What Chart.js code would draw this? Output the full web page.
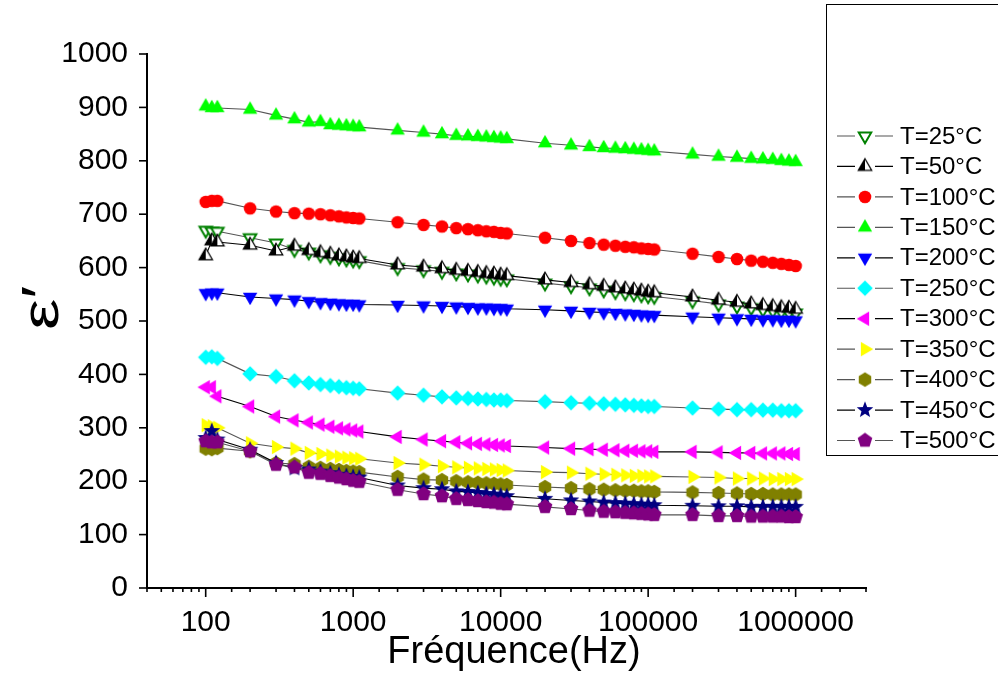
<!DOCTYPE html>
<html><head><meta charset="utf-8">
<script src="https://cdn.jsdelivr.net/npm/chart.js@4/dist/chart.umd.min.js"></script>
<style>html,body{margin:0;padding:0;background:#fff}canvas{display:block}</style>
</head><body>
<canvas id="c" width="998" height="674"></canvas>
<script>
// ---------- DATA ----------
const frequencies = [100,110,120,200,300,400,500,600,700,800,900,1000,1100,
  2000,3000,4000,5000,6000,7000,8000,9000,10000,11000,
  20000,30000,40000,50000,60000,70000,80000,90000,100000,110000,
  200000,300000,400000,500000,600000,700000,800000,900000,1000000];
const seriesLabels = ['T=25°C','T=50°C','T=100°C','T=150°C','T=200°C','T=250°C','T=300°C','T=350°C','T=400°C','T=450°C','T=500°C'];
const eps_T25  = [670,668,668,656,646,634,629,624,621,618,616,614,613, 600,596,593,590,588,586,584,582,580,579, 571,566,562,558,555,553,551,549,547,546, 538,532,528,525,522,520,518,516,515];
const eps_T50  = [622,650,648,642,631,640,632,628,625,622,620,618,617, 605,601,598,595,593,591,589,588,586,585, 577,572,568,565,562,560,558,556,554,553, 545,539,535,532,529,527,525,524,522];
const eps_T100 = [723,725,725,711,705,702,701,700,698,696,694,693,692, 685,680,677,674,672,670,668,667,665,664, 656,650,646,643,641,639,638,636,635,634, 626,620,616,613,611,609,607,605,603];
const eps_T150 = [902,899,899,896,885,878,872,873,867,866,865,864,863, 857,853,850,847,846,845,844,843,842,841, 833,829,826,824,823,822,821,820,819,818, 812,808,806,804,803,802,800,799,798];
const eps_T200 = [552,553,553,545,542,540,537,535,534,533,532,532,531, 530,529,528,527,526,525,525,524,524,523, 521,519,517,516,515,514,513,512,511,511, 508,506,505,504,503,503,502,502,501];
const eps_T250 = [432,433,430,401,396,388,384,381,379,377,375,374,373, 365,361,358,356,355,354,353,352,352,351, 349,347,346,345,344,343,342,341,340,340, 337,335,334,334,333,333,332,332,332];
const eps_T300 = [376,376,359,340,321,314,310,306,302,299,297,295,293, 283,278,275,273,271,270,269,268,267,266, 263,261,260,259,258,257,257,256,256,255, 255,254,253,253,252,252,252,251,251];
const eps_T350 = [305,303,300,271,264,261,253,251,248,246,244,243,242, 234,231,228,226,225,224,223,222,221,220, 217,216,214,213,212,211,210,210,209,209, 208,207,205,205,205,204,204,204,204];
const eps_T400 = [261,260,262,256,234,232,227,225,223,221,219,218,217, 208,203,202,200,198,197,196,195,194,193, 189,187,185,184,183,182,182,181,181,180, 179,178,177,176,176,175,175,175,175];
const eps_T450 = [281,294,278,259,234,224,222,218,215,212,210,208,207, 192,187,185,181,180,178,176,175,173,172, 167,164,162,160,159,158,157,156,156,155, 154,153,153,152,152,152,152,152,152];
const eps_T500 = [275,273,273,256,231,226,216,214,210,207,204,201,199, 184,176,172,167,165,163,161,160,158,157, 152,148,145,143,142,141,140,139,138,137, 137,135,135,134,134,134,134,133,133];
const xTickLabels = [100,1000,10000,100000,1000000];
const yTickLabels = [0,100,200,300,400,500,600,700,800,900,1000];
const xTitle = 'Fréquence(Hz)';
const yTitle = 'ε′';

// ---------- MARKERS ----------
function makeMarker(draw){
  const s=22, c=document.createElement('canvas'); c.width=s; c.height=s;
  const g=c.getContext('2d'); g.translate(s/2,s/2); draw(g); return c;
}
function polyPath(g,n,r,rot){
  g.beginPath();
  for(let i=0;i<n;i++){const a=rot+i*2*Math.PI/n; const x=Math.sin(a)*r, y=-Math.cos(a)*r; i?g.lineTo(x,y):g.moveTo(x,y);}
  g.closePath();
}
function filledPoly(n,r,rot,color){return makeMarker(g=>{polyPath(g,n,r,rot);g.fillStyle=color;g.fill();});}
const mk = {
  openDown: makeMarker(g=>{polyPath(g,3,7.2,Math.PI);g.fillStyle='#fff';g.fill();g.lineWidth=2;g.strokeStyle='#008000';g.stroke();}),
  halfUp: makeMarker(g=>{const r=7.8,h=r*Math.sqrt(3)/2;
    g.beginPath();g.moveTo(0,-r);g.lineTo(h,r/2);g.lineTo(-h,r/2);g.closePath();g.fillStyle='#fff';g.fill();
    g.beginPath();g.moveTo(0,-r);g.lineTo(0,r/2);g.lineTo(-h,r/2);g.closePath();g.fillStyle='#000';g.fill();
    g.beginPath();g.moveTo(0,-r);g.lineTo(h,r/2);g.lineTo(-h,r/2);g.closePath();g.lineWidth=1.2;g.strokeStyle='#000';g.stroke();}),
  circle: makeMarker(g=>{g.beginPath();g.arc(0,0,6.3,0,2*Math.PI);g.fillStyle='#ff0000';g.fill();}),
  up: filledPoly(3,8.3,0,'#00ff00'),
  down: filledPoly(3,8.3,Math.PI,'#0000ff'),
  diamond: filledPoly(4,7.8,0,'#00ffff'),
  left: filledPoly(3,8.3,-Math.PI/2,'#ff00ff'),
  right: filledPoly(3,8.3,Math.PI/2,'#ffff00'),
  hexagon: filledPoly(6,7.2,0,'#808000'),
  star: makeMarker(g=>{g.beginPath();for(let i=0;i<10;i++){const a=i*Math.PI/5;const r=i%2?3.7:8.7;const x=Math.sin(a)*r,y=-Math.cos(a)*r;i?g.lineTo(x,y):g.moveTo(x,y);}g.closePath();g.fillStyle='#000080';g.fill();}),
  pentagon: filledPoly(5,7.7,0,'#800080')
};

const seriesValues = [eps_T25,eps_T50,eps_T100,eps_T150,eps_T200,eps_T250,eps_T300,eps_T350,eps_T400,eps_T450,eps_T500];
const seriesMarkers = [mk.openDown,mk.halfUp,mk.circle,mk.up,mk.down,mk.diamond,mk.left,mk.right,mk.hexagon,mk.star,mk.pentagon];
const seriesLineColors = ['#555','#000','#555','#555','#000','#555','#000','#555','#555','#000','#555'];

const datasets = seriesValues.map((vals,i)=>({
  label: seriesLabels[i],
  data: frequencies.map((f,j)=>({x:f,y:vals[j]})),
  borderColor: seriesLineColors[i],
  borderWidth: 1.1,
  backgroundColor: seriesLineColors[i],
  pointStyle: seriesMarkers[i],
  pointRadius: 7,
  pointHoverRadius: 7,
  fill: false,
  tension: 0,
  order: 10 - i
}));

// ---------- PLUGINS ----------
const isPow10 = v => Math.abs(Math.log10(v) - Math.round(Math.log10(v))) < 1e-9;
const decorPlugin = {
  id: 'decor',
  afterDraw(chart){
    const ctx = chart.ctx, ca = chart.chartArea, xs = chart.scales.x, ys = chart.scales.y;
    ctx.save();
    ctx.strokeStyle = '#000'; ctx.lineWidth = 1.6;
    ys.ticks.forEach(t=>{
      const y = ys.getPixelForValue(t.value);
      const len = (t.value % 100 === 0) ? 8 : 4;
      ctx.beginPath(); ctx.moveTo(ca.left - len, y); ctx.lineTo(ca.left, y); ctx.stroke();
    });
    xs.ticks.forEach(t=>{
      const x = xs.getPixelForValue(t.value);
      const len = isPow10(t.value) ? 9 : 4;
      ctx.beginPath(); ctx.moveTo(x, ca.bottom); ctx.lineTo(x, ca.bottom + len); ctx.stroke();
    });
    // axis titles
    ctx.fillStyle = '#000';
    ctx.font = '38px "Liberation Sans", Arial, sans-serif';
    ctx.textAlign = 'center'; ctx.textBaseline = 'alphabetic';
    ctx.fillText(xTitle, 514, 663);
    ctx.save();
    ctx.translate(58, 330); ctx.rotate(-Math.PI/2); ctx.scale(1.35, 1);
    ctx.font = '52px "Liberation Sans", Arial, sans-serif';
    ctx.textAlign = 'left';
    ctx.fillText(yTitle, 0, 0);
    ctx.restore();
    // legend
    ctx.lineWidth = 1; ctx.strokeStyle = '#000';
    ctx.strokeRect(826.5, 4.5, 200, 451);
    ctx.font = '24px "Liberation Sans", Arial, sans-serif';
    ctx.textAlign = 'left'; ctx.textBaseline = 'middle';
    chart.data.datasets.forEach((ds,i)=>{
      const y = 136 + i*30.45;
      ctx.strokeStyle = ds.borderColor; ctx.lineWidth = 1.2;
      ctx.beginPath(); ctx.moveTo(837, y); ctx.lineTo(855, y); ctx.moveTo(875, y); ctx.lineTo(893, y); ctx.stroke();
      const m = ds.pointStyle;
      ctx.drawImage(m, 865 - m.width/2, y - m.height/2);
      ctx.fillStyle = '#000';
      ctx.fillText(ds.label, 900, y + 1);
    });
    ctx.restore();
  }
};

Chart.defaults.font.family = '"Liberation Sans", Arial, sans-serif';
Chart.defaults.color = '#000';

new Chart(document.getElementById('c'), {
  type: 'line',
  data: { datasets },
  options: {
    responsive: false,
    animation: false,
    devicePixelRatio: 1,
    layout: { padding: { left: 0, right: 132, top: 54, bottom: 0 } },
    plugins: { legend: { display: false }, tooltip: { enabled: false } },
    scales: {
      x: {
        type: 'logarithmic',
        min: 40, max: 3000000,
        afterFit(s){ s.height = 86; },
        grid: { display: true, drawOnChartArea: false, drawTicks: false },
        border: { display: true, color: '#000', width: 2 },
        ticks: {
          autoSkip: false, maxRotation: 0, padding: 17,
          font: { size: 30 }, color: '#000',
          callback: (v) => xTickLabels.includes(v) ? String(v) : ''
        }
      },
      y: {
        type: 'linear',
        min: 0, max: 1000,
        afterFit(s){ s.width = 147; },
        grid: { display: true, drawOnChartArea: false, drawTicks: false },
        border: { display: true, color: '#000', width: 2 },
        ticks: {
          stepSize: 50, padding: 19,
          font: { size: 30 }, color: '#000',
          callback: (v) => yTickLabels.includes(v) ? String(v) : ''
        }
      }
    }
  },
  plugins: [decorPlugin]
});
</script>
</body></html>
